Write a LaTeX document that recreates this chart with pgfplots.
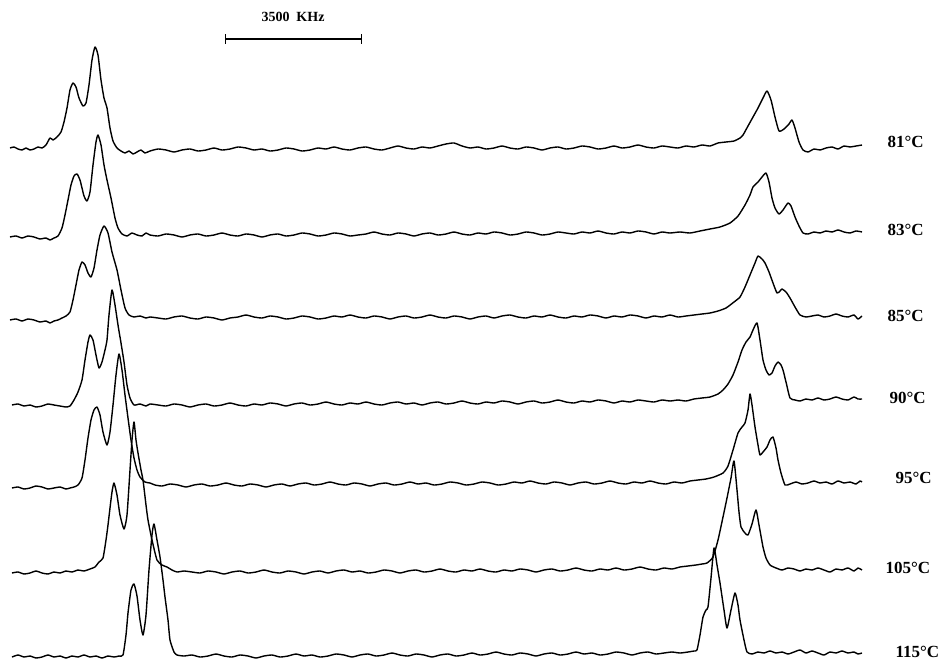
\documentclass[border=0pt]{standalone}
\usepackage{fontspec}
\setmainfont{Liberation Serif}
\usepackage{pgfplots}
\pgfplotsset{compat=1.18}
\tikzset{lab/.style={font=\fontsize{17}{20}\selectfont\bfseries, anchor=west}}

\begin{document}
\begin{tikzpicture}
\begin{axis}[
    scale only axis,
    width=942pt, height=661pt,
    xmin=0, xmax=942, ymin=0, ymax=661,
    y dir=reverse,
    hide axis,
    clip=false,
    cycle list={{black, solid}},
    every axis plot/.append style={line width=1.4pt, line join=round, no markers, smooth, tension=0.35},
]
\coordinate (bl) at (axis cs:0,661);
\coordinate (tr) at (axis cs:942,0);
% scale bar
\addplot[line width=1.3pt, |-|, sharp plot] coordinates {(225,39) (362,39)};
\node[font=\fontsize{14}{16}\selectfont\bfseries] at (axis cs:293,17) {3500\ \ KHz};

% 81 C
\addplot coordinates {(10,148) (14,147) (18,149) (22,150) (26,148) (30,150) (34,149) (38,147) (42,148) (46,145) (50,138) (53,140) (57,137) (61,132) (64,122) (67,108) (70,90) (73,83) (76,87) (79,98) (83,106) (86,103) (89,85) (92,60) (95,47) (98,55) (101,80) (104,98) (107,108) (110,128) (113,141) (117,148) (121,151) (125,153) (129,151) (133,154) (137,152) (141,150) (145,153)
(150,151) (158,149) (166,150) (174,152) (182,150) (190,149) (198,151) (206,150) (214,148) (222,150) (230,149) (238,147) (246,148) (254,150) (262,149) (270,151) (278,150) (286,148) (294,149) (302,151) (310,150) (318,148) (326,149) (334,147) (342,149) (350,150) (358,148) (366,147) (374,149) (382,150) (390,148) (398,146) (406,148) (414,149) (422,147) (430,148) (438,146) (446,144) (454,143) (462,146) (470,148) (478,147) (486,149) (494,148) (502,146) (510,148) (518,149) (526,147) (534,148) (542,150) (550,148) (558,147) (566,149) (574,148) (582,146) (590,147) (598,149) (606,148) (614,146) (622,148) (630,147) (638,145) (646,147) (654,148) (662,146) (670,147) (678,148) (686,146) (694,147) (702,145) (710,146) (718,143) (726,142) (734,141) (740,138)
(743,135) (748,126) (753,117) (758,108) (763,98) (767,91) (771,100) (775,117) (779,131) (784,129) (789,124) (792,120) (795,128) (799,142) (803,150) (808,152) (814,149) (820,150) (826,148) (832,147) (838,149) (844,146) (850,147) (856,146) (862,145)};

% 83 C
\addplot coordinates {(10,237) (16,236) (22,238) (28,236) (34,237) (40,239) (46,238) (50,240) (54,238) (58,236) (62,228) (65,215) (68,200) (71,185) (74,176) (77,174) (80,180) (84,196) (87,201) (90,192) (93,165) (96,142) (98,135) (101,145) (104,165) (107,180) (111,198) (115,218) (118,228) (122,234) (127,236) (132,233) (137,235) (142,236) (146,233) (150,235)
(158,236) (166,234) (174,235) (182,237) (190,235) (198,234) (206,236) (214,235) (222,233) (230,235) (238,236) (246,234) (254,235) (262,237) (270,235) (278,234) (286,236) (294,235) (302,233) (310,234) (318,236) (326,235) (334,233) (342,234) (350,236) (358,235) (366,234) (374,232) (382,234) (390,235) (398,233) (406,234) (414,236) (422,234) (430,233) (438,235) (446,234) (454,232) (462,234) (470,235) (478,233) (486,234) (494,232) (502,233) (510,235) (518,234) (526,232) (534,233) (542,235) (550,234) (558,232) (566,233) (574,234) (582,232) (590,233) (598,231) (606,233) (614,234) (622,232) (630,233) (638,231) (646,232) (654,234) (662,232) (670,233) (680,232) (690,233) (700,231) (710,229) (720,227) (730,223) (738,216) (745,205) (750,195) (753,187) (758,182) (762,177) (766,173) (769,182) (772,198) (775,208) (779,214) (783,210) (788,203) (791,206) (795,217) (799,226) (803,233) (808,234) (814,232) (820,233) (826,231) (832,232) (838,230) (844,232) (850,233) (856,231) (862,232)};

% 85 C
\addplot coordinates {(10,320) (16,319) (22,321) (28,319) (34,320) (40,322) (46,321) (50,323) (54,321) (58,320) (62,318) (66,316) (70,312) (73,300) (76,285) (79,270) (82,262) (85,265) (88,273) (91,277) (94,268) (97,250) (100,235) (104,226) (108,233) (112,252) (117,270) (121,290) (125,308) (129,315) (134,317) (140,316) (146,318) (150,317)
(158,318) (166,319) (174,317) (182,316) (190,318) (198,319) (206,317) (214,318) (222,320) (230,318) (238,317) (246,315) (254,317) (262,318) (270,316) (278,317) (286,319) (294,318) (302,316) (310,317) (318,319) (326,318) (334,316) (342,317) (350,315) (358,317) (366,318) (374,316) (382,317) (390,319) (398,317) (406,316) (414,318) (422,317) (430,315) (438,317) (446,318) (454,316) (462,317) (470,319) (478,317) (486,316) (494,318) (502,316) (510,315) (518,317) (526,318) (534,316) (542,317) (550,315) (558,317) (566,318) (574,316) (582,317) (590,315) (598,316) (606,318) (614,316) (622,317) (630,315) (638,316) (646,318) (654,316) (662,317) (670,315) (678,317)
(686,316) (694,315) (702,314) (710,313) (718,311) (726,308) (734,302) (740,297) (745,287) (750,275) (755,263) (758,256) (762,259) (765,263) (769,272) (773,283) (777,293) (780,291) (782,289) (786,292) (790,298) (795,307) (800,315) (806,317) (812,316) (818,315) (824,317) (830,316) (836,314) (842,316) (848,317) (854,315) (858,319) (862,316)};

% 90 C
\addplot coordinates {(12,405) (18,404) (24,406) (30,405) (36,407) (42,406) (48,404) (54,405) (60,406) (66,407) (70,406) (74,400) (78,392) (82,380) (85,360) (88,342) (90,335) (93,340) (96,355) (99,368) (102,362) (105,350) (107,340) (109,315) (112,290) (115,305) (118,325) (121,343) (124,362) (127,385) (130,398) (134,405) (140,404) (146,406) (150,404)
(158,405) (166,406) (174,404) (182,405) (190,407) (198,405) (206,404) (214,406) (222,405) (230,403) (238,405) (246,406) (254,404) (262,405) (270,403) (278,404) (286,406) (294,404) (302,403) (310,405) (318,404) (326,402) (334,404) (342,405) (350,403) (358,404) (366,402) (374,404) (382,405) (390,403) (398,402) (406,404) (414,403) (422,405) (430,403) (438,402) (446,404) (454,403) (462,401) (470,403) (478,404) (486,402) (494,403) (502,401) (510,402) (518,404) (526,402) (534,401) (542,403) (550,402) (558,400) (566,402) (574,403) (582,401) (590,402) (598,400) (606,401) (614,403) (622,401) (630,402) (638,400) (646,401) (654,402) (662,400) (670,401) (678,400)
(686,401) (694,399) (702,398) (710,397) (718,394) (723,390) (728,384) (733,375) (738,362) (742,350) (746,342) (750,337) (753,330) (757,323) (760,340) (763,360) (766,370) (769,375) (772,373) (775,366) (778,362) (781,365) (783,370) (786,382) (790,398) (795,400) (800,401) (806,399) (812,400) (818,398) (824,400) (830,399) (836,397) (842,399) (848,400) (854,397) (858,399) (862,399)};

% 95 C
\addplot coordinates {(12,488) (18,487) (24,489) (30,488) (36,486) (42,487) (48,489) (54,488) (60,487) (66,489) (70,488) (74,487) (78,485) (82,478) (85,460) (88,438) (91,420) (94,410) (97,407) (100,415) (103,432) (107,445) (110,432) (113,405) (116,375) (119,354) (122,370) (125,395) (128,418) (131,440) (134,458) (137,470) (140,477) (145,482) (150,483) (155,485)
(162,486) (170,484) (178,485) (186,487) (194,485) (202,484) (210,486) (218,485) (226,483) (234,485) (242,486) (250,484) (258,485) (266,487) (274,485) (282,484) (290,486) (298,484) (306,483) (314,485) (322,484) (330,482) (338,484) (346,485) (354,483) (362,484) (370,486) (378,484) (386,483) (394,485) (402,484) (410,482) (418,484) (426,483) (434,485) (442,484) (450,482) (458,483) (466,485) (474,484) (482,482) (490,483) (498,485) (506,484) (514,482) (522,483) (530,481) (538,483) (546,484) (554,482) (562,483) (570,485) (578,483) (586,482) (594,484) (602,483) (610,481) (618,483) (626,484) (634,482) (642,483) (650,481) (658,483) (666,484) (674,482) (682,483)
(690,481) (698,480) (706,479) (714,477) (723,473) (728,466) (733,450) (738,433) (742,427) (745,423) (748,410) (750,394) (752,405) (755,427) (758,445) (760,455) (763,452) (767,447) (770,440) (773,437) (776,448) (778,460) (781,473) (785,485) (790,484) (796,482) (802,484) (808,483) (814,481) (820,483) (826,482) (832,484) (838,481) (844,483) (850,482) (856,484) (860,481) (862,482)};

% 105 C
\addplot coordinates {(12,573) (18,572) (24,574) (30,573) (36,571) (42,573) (48,574) (54,572) (60,573) (66,571) (72,572) (78,570) (84,571) (90,569) (95,567) (99,562) (103,558) (106,540) (108,525) (110,508) (112,492) (114,483) (117,495) (120,515) (124,529) (127,515) (130,470) (132,440) (134,422) (136,440) (138,453) (141,470) (143,480) (146,505) (148,520) (152,540) (157,560) (162,565) (167,567) (172,570) (177,572) (184,571)
(192,572) (200,573) (208,571) (216,572) (224,574) (232,572) (240,571) (248,573) (256,572) (264,570) (272,572) (280,573) (288,571) (296,572) (304,574) (312,572) (320,571) (328,573) (336,571) (344,570) (352,572) (360,571) (368,573) (376,572) (384,570) (392,571) (400,573) (408,571) (416,570) (424,572) (432,571) (440,569) (448,571) (456,572) (464,570) (472,571) (480,569) (488,571) (496,572) (504,570) (512,571) (520,569) (528,570) (536,572) (544,570) (552,569) (560,571) (568,570) (576,568) (584,570) (592,571) (600,569) (608,570) (616,568) (624,570) (632,569) (640,567) (648,569) (656,570) (664,568) (672,569) (680,567)
(688,566) (696,565) (702,564) (707,563) (713,557) (718,540) (723,517) (727,498) (731,478) (734,461) (737,490) (739,512) (741,527) (745,533) (748,535) (752,524) (756,510) (759,525) (763,547) (766,558) (770,565) (776,568) (782,570) (788,568) (794,569) (800,571) (806,569) (812,570) (818,568) (824,570) (830,572) (836,569) (842,570) (848,568) (854,571) (858,568) (862,570)};

% 115 C
\addplot coordinates {(12,657) (18,655) (24,657) (30,656) (36,658) (42,657) (48,655) (54,657) (60,656) (66,658) (72,656) (78,657) (84,655) (90,657) (96,656) (102,658) (108,656) (114,657) (119,656) (123,655) (126,635) (128,613) (131,590) (134,584) (137,596) (140,620) (143,635) (146,615) (149,570) (152,535) (154,524) (157,540) (160,557) (163,580) (165,597) (168,620) (170,640) (174,652) (177,655) (184,656)
(192,655) (200,657) (208,656) (216,654) (224,656) (232,657) (240,655) (248,656) (256,658) (264,656) (272,655) (280,657) (288,656) (296,654) (304,656) (312,655) (320,657) (328,656) (336,654) (344,655) (352,657) (360,655) (368,654) (376,656) (384,655) (392,653) (400,655) (408,656) (416,654) (424,655) (432,657) (440,655) (448,654) (456,656) (464,655) (472,653) (480,655) (488,654) (496,652) (504,654) (512,655) (520,653) (528,654) (536,656) (544,654) (552,653) (560,655) (568,654) (576,652) (584,654) (592,653) (600,655) (608,654) (616,652) (624,653) (632,655) (640,653) (648,652) (656,654) (664,653) (672,652) (680,653)
(688,652) (694,651) (697,650) (700,635) (703,617) (706,610) (708,607) (711,578) (714,548) (717,565) (720,583) (724,610) (727,628) (731,610) (735,593) (738,605) (740,620) (744,640) (747,652) (752,654) (758,652) (764,653) (770,651) (776,653) (782,652) (788,654) (794,652) (800,650) (806,653) (812,651) (818,653) (824,655) (830,652) (836,653) (842,651) (848,653) (854,652) (858,654) (862,653)};

\node[lab] at (axis cs:884,142) {81°C};
\node[lab] at (axis cs:884,230) {83°C};
\node[lab] at (axis cs:884,316) {85°C};
\node[lab] at (axis cs:886,398) {90°C};
\node[lab] at (axis cs:892,478) {95°C};
\node[lab] at (axis cs:882,568) {105°C};
\node[lab] at (axis cs:892,652) {115°C};
\end{axis}
\pgfresetboundingbox
\useasboundingbox (bl) rectangle (tr);
\end{tikzpicture}
\end{document}
